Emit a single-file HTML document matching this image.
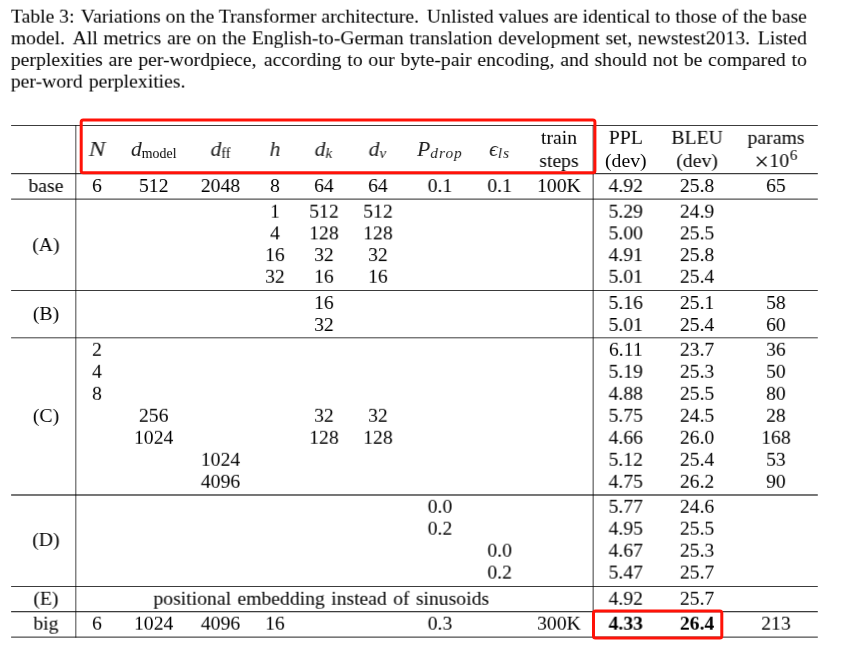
<!DOCTYPE html><html><head><meta charset="utf-8"><style>
html,body{margin:0;padding:0;background:#fff}
body{width:861px;height:650px;position:relative;overflow:hidden;font-family:"Liberation Serif",serif;font-size:19.7px;color:#000;line-height:1}
.t{will-change:transform;position:absolute;white-space:nowrap;transform:translateX(-50%);line-height:0.702px;height:0}
.c{word-spacing:-0.6px;will-change:transform;position:absolute;left:10px;width:796.1px;transform-origin:0 0;white-space:nowrap;line-height:0.702px;height:0;text-align:justify;text-align-last:justify}
.c.last{text-align-last:left;text-align:left;word-spacing:1.2px}
.b{font-weight:bold}
.t i{font-size:1.1em;color:#1c1c1c}
.sub i{font-size:1.1em;letter-spacing:0.07em}
.sub{font-size:0.705em;position:relative;top:0.17em}
.sup{font-size:0.77em;position:relative;top:-0.487em;margin-left:0.8px}
.x{font-size:1.29em;line-height:0;vertical-align:-3px;margin-right:0.5px}

</style></head><body>
<div class="c" style="top:15px;transform:translate(0.8px,0.65px) rotate(0.004deg)">Table 3:<span style='display:inline-block;width:2px'></span> Variations on the Transformer architecture.<span style='display:inline-block;width:3px'></span> Unlisted values are identical to those of the base</div>
<div class="c" style="top:37px;transform:translate(0.8px,0.3px) rotate(0.004deg)">model.<span style='display:inline-block;width:3px'></span> All metrics are on the English-to-German translation development set, newstest2013.<span style='display:inline-block;width:2px'></span> Listed</div>
<div class="c" style="top:58px;transform:translate(0.8px,0.95px) rotate(0.004deg)">perplexities are per-wordpiece,<span style='display:inline-block;width:1.5px'></span> according to our byte-pair encoding, and should not be compared to</div>
<div class="c last" style="top:80px;transform:translate(0.8px,0.6px) rotate(0.004deg)">per-word perplexities.</div>
<svg width="861" height="650" viewBox="0 0 861 650" style="position:absolute;left:0;top:0"><rect x="11.1" y="125" width="806.7" height="1" fill="#000" fill-opacity="0.765"/><rect x="11.1" y="173" width="806.7" height="1" fill="#000" fill-opacity="0.765"/><rect x="11.1" y="174" width="806.7" height="1" fill="#000" fill-opacity="0.176"/><rect x="11.1" y="198" width="806.7" height="1" fill="#000" fill-opacity="0.333"/><rect x="11.1" y="199" width="806.7" height="1" fill="#000" fill-opacity="0.510"/><rect x="11.1" y="290" width="806.7" height="1" fill="#000" fill-opacity="0.773"/><rect x="11.1" y="337" width="806.7" height="1" fill="#000" fill-opacity="0.529"/><rect x="11.1" y="338" width="806.7" height="1" fill="#000" fill-opacity="0.235"/><rect x="11.1" y="494" width="806.7" height="1" fill="#000" fill-opacity="0.541"/><rect x="11.1" y="495" width="806.7" height="1" fill="#000" fill-opacity="0.529"/><rect x="11.1" y="586" width="806.7" height="1" fill="#000" fill-opacity="0.765"/><rect x="11.1" y="611" width="806.7" height="1" fill="#000" fill-opacity="0.765"/><rect x="11.1" y="612" width="806.7" height="1" fill="#000" fill-opacity="0.216"/><rect x="11.1" y="636" width="806.7" height="1" fill="#000" fill-opacity="0.333"/><rect x="11.1" y="637" width="806.7" height="1" fill="#000" fill-opacity="0.529"/><rect x="75" y="125" width="1" height="512.6" fill="#000" fill-opacity="0.490"/><rect x="76" y="125" width="1" height="512.6" fill="#000" fill-opacity="0.235"/><rect x="592" y="125" width="1" height="512.6" fill="#000" fill-opacity="0.275"/><rect x="593" y="125" width="1" height="512.6" fill="#000" fill-opacity="0.490"/></svg>
<div class="t " style="left:46px;top:185px;transform:translate(calc(-50% + 0px),0.0px) rotate(0.01deg)">base</div>
<div class="t " style="left:97px;top:185px;transform:translate(calc(-50% + 0px),0.0px) rotate(0.01deg)">6</div>
<div class="t " style="left:153px;top:185px;transform:translate(calc(-50% + 0.7px),0.0px) rotate(0.01deg)">512</div>
<div class="t " style="left:220px;top:185px;transform:translate(calc(-50% + 0.5px),0.0px) rotate(0.01deg)">2048</div>
<div class="t " style="left:275px;top:185px;transform:translate(calc(-50% + 0px),0.0px) rotate(0.01deg)">8</div>
<div class="t " style="left:324px;top:185px;transform:translate(calc(-50% + 0px),0.0px) rotate(0.01deg)">64</div>
<div class="t " style="left:378px;top:185px;transform:translate(calc(-50% + 0px),0.0px) rotate(0.01deg)">64</div>
<div class="t " style="left:440px;top:185px;transform:translate(calc(-50% + 0px),0.0px) rotate(0.01deg)">0.1</div>
<div class="t " style="left:499px;top:185px;transform:translate(calc(-50% + 0.7px),0.0px) rotate(0.01deg)">0.1</div>
<div class="t " style="left:559px;top:185px;transform:translate(calc(-50% + 0px),0.0px) rotate(0.01deg)">100K</div>
<div class="t " style="left:625px;top:185px;transform:translate(calc(-50% + 0.8px),0.0px) rotate(0.01deg)">4.92</div>
<div class="t " style="left:697px;top:185px;transform:translate(calc(-50% + 0.1px),0.0px) rotate(0.01deg)">25.8</div>
<div class="t " style="left:776px;top:185px;transform:translate(calc(-50% + 0px),0.0px) rotate(0.01deg)">65</div>
<div class="t " style="left:275px;top:210px;transform:translate(calc(-50% + 0px),0.7px) rotate(0.01deg)">1</div>
<div class="t " style="left:324px;top:210px;transform:translate(calc(-50% + 0px),0.7px) rotate(0.01deg)">512</div>
<div class="t " style="left:378px;top:210px;transform:translate(calc(-50% + 0px),0.7px) rotate(0.01deg)">512</div>
<div class="t " style="left:625px;top:210px;transform:translate(calc(-50% + 0.8px),0.7px) rotate(0.01deg)">5.29</div>
<div class="t " style="left:697px;top:210px;transform:translate(calc(-50% + 0.1px),0.7px) rotate(0.01deg)">24.9</div>
<div class="t " style="left:275px;top:232px;transform:translate(calc(-50% + 0px),0.4px) rotate(0.01deg)">4</div>
<div class="t " style="left:324px;top:232px;transform:translate(calc(-50% + 0px),0.4px) rotate(0.01deg)">128</div>
<div class="t " style="left:378px;top:232px;transform:translate(calc(-50% + 0px),0.4px) rotate(0.01deg)">128</div>
<div class="t " style="left:625px;top:232px;transform:translate(calc(-50% + 0.8px),0.4px) rotate(0.01deg)">5.00</div>
<div class="t " style="left:697px;top:232px;transform:translate(calc(-50% + 0.1px),0.4px) rotate(0.01deg)">25.5</div>
<div class="t " style="left:275px;top:254px;transform:translate(calc(-50% + 0px),0.1px) rotate(0.01deg)">16</div>
<div class="t " style="left:324px;top:254px;transform:translate(calc(-50% + 0px),0.1px) rotate(0.01deg)">32</div>
<div class="t " style="left:378px;top:254px;transform:translate(calc(-50% + 0px),0.1px) rotate(0.01deg)">32</div>
<div class="t " style="left:625px;top:254px;transform:translate(calc(-50% + 0.8px),0.1px) rotate(0.01deg)">4.91</div>
<div class="t " style="left:697px;top:254px;transform:translate(calc(-50% + 0.1px),0.1px) rotate(0.01deg)">25.8</div>
<div class="t " style="left:275px;top:275px;transform:translate(calc(-50% + 0px),0.8px) rotate(0.01deg)">32</div>
<div class="t " style="left:324px;top:275px;transform:translate(calc(-50% + 0px),0.8px) rotate(0.01deg)">16</div>
<div class="t " style="left:378px;top:275px;transform:translate(calc(-50% + 0px),0.8px) rotate(0.01deg)">16</div>
<div class="t " style="left:625px;top:275px;transform:translate(calc(-50% + 0.8px),0.8px) rotate(0.01deg)">5.01</div>
<div class="t " style="left:697px;top:275px;transform:translate(calc(-50% + 0.1px),0.8px) rotate(0.01deg)">25.4</div>
<div class="t " style="left:46px;top:244px;transform:translate(calc(-50% + 0px),0.0px) rotate(0.01deg)">(A)</div>
<div class="t " style="left:324px;top:302px;transform:translate(calc(-50% + 0px),0.0px) rotate(0.01deg)">16</div>
<div class="t " style="left:625px;top:302px;transform:translate(calc(-50% + 0.8px),0.0px) rotate(0.01deg)">5.16</div>
<div class="t " style="left:697px;top:302px;transform:translate(calc(-50% + 0.1px),0.0px) rotate(0.01deg)">25.1</div>
<div class="t " style="left:776px;top:302px;transform:translate(calc(-50% + 0px),0.0px) rotate(0.01deg)">58</div>
<div class="t " style="left:324px;top:324px;transform:translate(calc(-50% + 0px),0.0px) rotate(0.01deg)">32</div>
<div class="t " style="left:625px;top:324px;transform:translate(calc(-50% + 0.8px),0.0px) rotate(0.01deg)">5.01</div>
<div class="t " style="left:697px;top:324px;transform:translate(calc(-50% + 0.1px),0.0px) rotate(0.01deg)">25.4</div>
<div class="t " style="left:776px;top:324px;transform:translate(calc(-50% + 0px),0.0px) rotate(0.01deg)">60</div>
<div class="t " style="left:46px;top:313px;transform:translate(calc(-50% + 0px),0.0px) rotate(0.01deg)">(B)</div>
<div class="t " style="left:625px;top:348px;transform:translate(calc(-50% + 0.8px),0.8px) rotate(0.01deg)">6.11</div>
<div class="t " style="left:697px;top:348px;transform:translate(calc(-50% + 0.1px),0.8px) rotate(0.01deg)">23.7</div>
<div class="t " style="left:776px;top:348px;transform:translate(calc(-50% + 0px),0.8px) rotate(0.01deg)">36</div>
<div class="t " style="left:625px;top:370px;transform:translate(calc(-50% + 0.8px),0.8px) rotate(0.01deg)">5.19</div>
<div class="t " style="left:697px;top:370px;transform:translate(calc(-50% + 0.1px),0.8px) rotate(0.01deg)">25.3</div>
<div class="t " style="left:776px;top:370px;transform:translate(calc(-50% + 0px),0.8px) rotate(0.01deg)">50</div>
<div class="t " style="left:625px;top:392px;transform:translate(calc(-50% + 0.8px),0.8px) rotate(0.01deg)">4.88</div>
<div class="t " style="left:697px;top:392px;transform:translate(calc(-50% + 0.1px),0.8px) rotate(0.01deg)">25.5</div>
<div class="t " style="left:776px;top:392px;transform:translate(calc(-50% + 0px),0.8px) rotate(0.01deg)">80</div>
<div class="t " style="left:625px;top:414px;transform:translate(calc(-50% + 0.8px),0.8px) rotate(0.01deg)">5.75</div>
<div class="t " style="left:697px;top:414px;transform:translate(calc(-50% + 0.1px),0.8px) rotate(0.01deg)">24.5</div>
<div class="t " style="left:776px;top:414px;transform:translate(calc(-50% + 0px),0.8px) rotate(0.01deg)">28</div>
<div class="t " style="left:625px;top:436px;transform:translate(calc(-50% + 0.8px),0.8px) rotate(0.01deg)">4.66</div>
<div class="t " style="left:697px;top:436px;transform:translate(calc(-50% + 0.1px),0.8px) rotate(0.01deg)">26.0</div>
<div class="t " style="left:776px;top:436px;transform:translate(calc(-50% + 0px),0.8px) rotate(0.01deg)">168</div>
<div class="t " style="left:625px;top:458px;transform:translate(calc(-50% + 0.8px),0.8px) rotate(0.01deg)">5.12</div>
<div class="t " style="left:697px;top:458px;transform:translate(calc(-50% + 0.1px),0.8px) rotate(0.01deg)">25.4</div>
<div class="t " style="left:776px;top:458px;transform:translate(calc(-50% + 0px),0.8px) rotate(0.01deg)">53</div>
<div class="t " style="left:625px;top:480px;transform:translate(calc(-50% + 0.8px),0.8px) rotate(0.01deg)">4.75</div>
<div class="t " style="left:697px;top:480px;transform:translate(calc(-50% + 0.1px),0.8px) rotate(0.01deg)">26.2</div>
<div class="t " style="left:776px;top:480px;transform:translate(calc(-50% + 0px),0.8px) rotate(0.01deg)">90</div>
<div class="t " style="left:97px;top:348px;transform:translate(calc(-50% + 0px),0.8px) rotate(0.01deg)">2</div>
<div class="t " style="left:97px;top:370px;transform:translate(calc(-50% + 0px),0.8px) rotate(0.01deg)">4</div>
<div class="t " style="left:97px;top:392px;transform:translate(calc(-50% + 0px),0.8px) rotate(0.01deg)">8</div>
<div class="t " style="left:153px;top:414px;transform:translate(calc(-50% + 0.7px),0.8px) rotate(0.01deg)">256</div>
<div class="t " style="left:324px;top:414px;transform:translate(calc(-50% + 0px),0.8px) rotate(0.01deg)">32</div>
<div class="t " style="left:378px;top:414px;transform:translate(calc(-50% + 0px),0.8px) rotate(0.01deg)">32</div>
<div class="t " style="left:153px;top:436px;transform:translate(calc(-50% + 0.7px),0.8px) rotate(0.01deg)">1024</div>
<div class="t " style="left:324px;top:436px;transform:translate(calc(-50% + 0px),0.8px) rotate(0.01deg)">128</div>
<div class="t " style="left:378px;top:436px;transform:translate(calc(-50% + 0px),0.8px) rotate(0.01deg)">128</div>
<div class="t " style="left:220px;top:458px;transform:translate(calc(-50% + 0.5px),0.8px) rotate(0.01deg)">1024</div>
<div class="t " style="left:220px;top:480px;transform:translate(calc(-50% + 0.5px),0.8px) rotate(0.01deg)">4096</div>
<div class="t " style="left:46px;top:415px;transform:translate(calc(-50% + 0px),0.0px) rotate(0.01deg)">(C)</div>
<div class="t " style="left:625px;top:505px;transform:translate(calc(-50% + 0.8px),0.8px) rotate(0.01deg)">5.77</div>
<div class="t " style="left:697px;top:505px;transform:translate(calc(-50% + 0.1px),0.8px) rotate(0.01deg)">24.6</div>
<div class="t " style="left:625px;top:527px;transform:translate(calc(-50% + 0.8px),0.7px) rotate(0.01deg)">4.95</div>
<div class="t " style="left:697px;top:527px;transform:translate(calc(-50% + 0.1px),0.7px) rotate(0.01deg)">25.5</div>
<div class="t " style="left:625px;top:549px;transform:translate(calc(-50% + 0.8px),0.7px) rotate(0.01deg)">4.67</div>
<div class="t " style="left:697px;top:549px;transform:translate(calc(-50% + 0.1px),0.7px) rotate(0.01deg)">25.3</div>
<div class="t " style="left:625px;top:571px;transform:translate(calc(-50% + 0.8px),0.6px) rotate(0.01deg)">5.47</div>
<div class="t " style="left:697px;top:571px;transform:translate(calc(-50% + 0.1px),0.6px) rotate(0.01deg)">25.7</div>
<div class="t " style="left:440px;top:505px;transform:translate(calc(-50% + 0px),0.8px) rotate(0.01deg)">0.0</div>
<div class="t " style="left:440px;top:527px;transform:translate(calc(-50% + 0px),0.7px) rotate(0.01deg)">0.2</div>
<div class="t " style="left:499px;top:549px;transform:translate(calc(-50% + 0.7px),0.7px) rotate(0.01deg)">0.0</div>
<div class="t " style="left:499px;top:571px;transform:translate(calc(-50% + 0.7px),0.6px) rotate(0.01deg)">0.2</div>
<div class="t " style="left:46px;top:539px;transform:translate(calc(-50% + 0px),0.0px) rotate(0.01deg)">(D)</div>
<div class="t " style="left:46px;top:597px;transform:translate(calc(-50% + 0px),0.8px) rotate(0.01deg)">(E)</div>
<div class="t " style="left:625px;top:597px;transform:translate(calc(-50% + 0.8px),0.8px) rotate(0.01deg)">4.92</div>
<div class="t " style="left:697px;top:597px;transform:translate(calc(-50% + 0.1px),0.8px) rotate(0.01deg)">25.7</div>
<div class="t " style="left:321px;top:597px;transform:translate(calc(-50% + 0.3px),0.8px) rotate(0.01deg)"><span style="word-spacing:1.35px">positional embedding instead of sinusoids</span></div>
<div class="t " style="left:46px;top:622px;transform:translate(calc(-50% + 0px),0.7px) rotate(0.01deg)">big</div>
<div class="t " style="left:97px;top:622px;transform:translate(calc(-50% + 0px),0.7px) rotate(0.01deg)">6</div>
<div class="t " style="left:153px;top:622px;transform:translate(calc(-50% + 0.7px),0.7px) rotate(0.01deg)">1024</div>
<div class="t " style="left:220px;top:622px;transform:translate(calc(-50% + 0.5px),0.7px) rotate(0.01deg)">4096</div>
<div class="t " style="left:275px;top:622px;transform:translate(calc(-50% + 0px),0.7px) rotate(0.01deg)">16</div>
<div class="t " style="left:440px;top:622px;transform:translate(calc(-50% + 0px),0.7px) rotate(0.01deg)">0.3</div>
<div class="t " style="left:559px;top:622px;transform:translate(calc(-50% + 0px),0.7px) rotate(0.01deg)">300K</div>
<div class="t b" style="left:625px;top:622px;transform:translate(calc(-50% + 0.8px),0.7px) rotate(0.01deg)">4.33</div>
<div class="t b" style="left:697px;top:622px;transform:translate(calc(-50% + 0.1px),0.7px) rotate(0.01deg)">26.4</div>
<div class="t " style="left:776px;top:622px;transform:translate(calc(-50% + 0px),0.7px) rotate(0.01deg)">213</div>
<div class="t " style="left:559px;top:136px;transform:translate(calc(-50% + 0px),0.9px) rotate(0.01deg)">train</div>
<div class="t " style="left:559px;top:160px;transform:translate(calc(-50% + 0px),0.0px) rotate(0.01deg)">steps</div>
<div class="t " style="left:625px;top:136px;transform:translate(calc(-50% + 0.8px),0.9px) rotate(0.01deg)">PPL</div>
<div class="t " style="left:625px;top:160px;transform:translate(calc(-50% + 0.8px),0.0px) rotate(0.01deg)">(dev)</div>
<div class="t " style="left:697px;top:136px;transform:translate(calc(-50% + 0.1px),0.9px) rotate(0.01deg)">BLEU</div>
<div class="t " style="left:697px;top:160px;transform:translate(calc(-50% + 0.1px),0.0px) rotate(0.01deg)">(dev)</div>
<div class="t " style="left:776px;top:136px;transform:translate(calc(-50% + 0px),0.9px) rotate(0.01deg)">params</div>
<div class="t " style="left:776px;top:160px;transform:translate(calc(-50% + 0px),0.0px) rotate(0.01deg)"><span class="x">×</span>10<span class="sup">6</span></div>
<div class="t " style="left:97px;top:149px;transform:translate(calc(-50% + 0px),0.0px) rotate(0.01deg)"><i style="display:inline-block;transform:scaleX(1.16)">N</i></div>
<div class="t " style="left:153px;top:149px;transform:translate(calc(-50% + 0.7px),0.0px) rotate(0.01deg)"><i>d</i><span class="sub">model</span></div>
<div class="t " style="left:220px;top:149px;transform:translate(calc(-50% + 0.5px),0.0px) rotate(0.01deg)"><i>d</i><span class="sub">ff</span></div>
<div class="t " style="left:275px;top:149px;transform:translate(calc(-50% + 0px),0.0px) rotate(0.01deg)"><i>h</i></div>
<div class="t " style="left:324px;top:149px;transform:translate(calc(-50% + 0px),0.0px) rotate(0.01deg)"><i>d</i><span class="sub"><i>k</i></span></div>
<div class="t " style="left:378px;top:149px;transform:translate(calc(-50% + 0px),0.0px) rotate(0.01deg)"><i>d</i><span class="sub"><i>v</i></span></div>
<div class="t " style="left:440px;top:149px;transform:translate(calc(-50% + 0px),0.0px) rotate(0.01deg)"><i>P</i><span class="sub"><i>drop</i></span></div>
<div class="t " style="left:499px;top:149px;transform:translate(calc(-50% + 0.7px),0.0px) rotate(0.01deg)"><i>ϵ</i><span class="sub"><i>ls</i></span></div>
<svg width="861" height="650" viewBox="0 0 861 650" style="position:absolute;left:0;top:0"><rect x="81.2" y="119.9" width="513.7" height="52.9" rx="2.0" ry="2.0" fill="none" stroke="#ff1208" stroke-width="3.0"/><rect x="593.5" y="611.1" width="128.3" height="26.9" rx="2.0" ry="2.0" fill="none" stroke="#ff1208" stroke-width="3.0"/></svg>
</body></html>
